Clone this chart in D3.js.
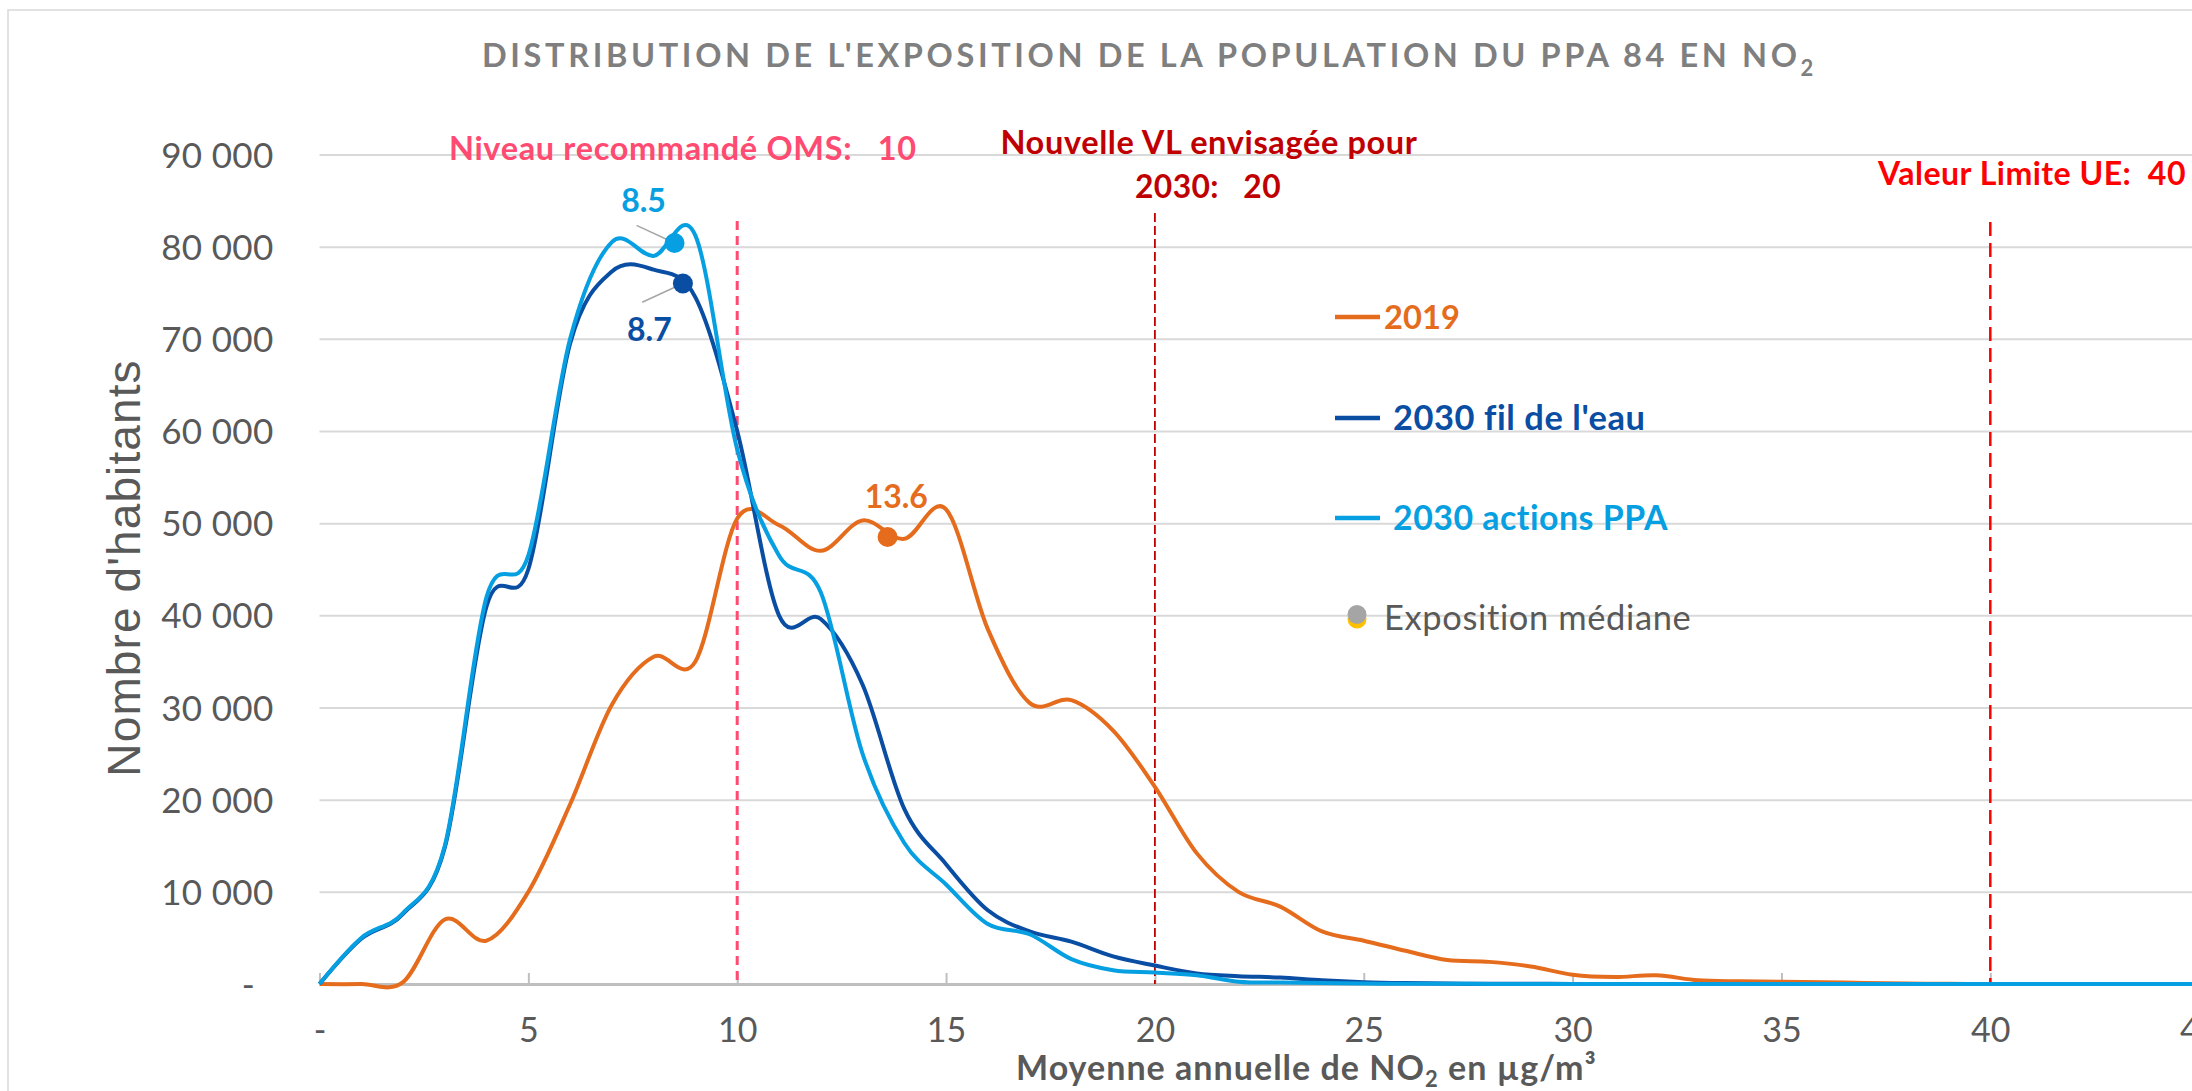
<!DOCTYPE html>
<html>
<head>
<meta charset="utf-8">
<script src="https://cdn.jsdelivr.net/npm/d3@7"></script>
<style>
  html, body { margin: 0; padding: 0; background: #fff; overflow: hidden; }
  svg { display: block; }
  text { white-space: pre; }
</style>
</head>
<body>
<svg id="chart" width="2192" height="1091"></svg>
<script>
// ---- Data: population per 1 µg/m³ bin of annual mean NO2 ----
const concentrations = d3.range(0, 46); // 0 .. 45 µg/m³

const pop2019 = [
  0, 0, 200, 7000, 4700, 10000, 19500, 30300, 35500, 35000,
  50500, 49800, 47000, 50300, 48300, 51500, 38500, 30500, 30800, 27500,
  21400, 14200, 10000, 8400, 5700, 4700, 3600, 2600, 2400, 1900,
  1000, 750, 950, 400, 300, 250, 200, 100, 50, 20,
  0, 0, 0, 0, 0, 0
];

const pop2030FilEau = [
  0, 4900, 7600, 14800, 41000, 45000, 69500, 77300, 77500, 74500,
  60000, 40000, 39600, 32500, 19000, 13000, 8000, 5700, 4600, 3000,
  2000, 1150, 850, 700, 400, 200, 100, 50, 30, 20,
  10, 0, 0, 0, 0, 0, 0, 0, 0, 0,
  0, 0, 0, 0, 0, 0
];

const pop2030ActionsPPA = [
  0, 5000, 7700, 15000, 42000, 46500, 70000, 80500, 79000, 81200,
  58000, 46500, 42500, 25000, 15300, 10800, 6500, 5400, 2700, 1500,
  1250, 950, 250, 150, 100, 50, 30, 20, 10, 0,
  0, 0, 0, 0, 0, 0, 0, 0, 0, 0,
  0, 0, 0, 0, 0, 0
];

const seriesNames = ["2019", "2030 fil de l'eau", "2030 actions PPA"];

// Median exposure of each scenario (µg/m³) and the population read at that point
const medianX = [13.6, 8.7, 8.5];
const medianY = [48500, 76000, 80400];

// Regulatory thresholds (µg/m³)
const thresholdValues = [10, 20, 40];

const xTicks = [0, 5, 10, 15, 20, 25, 30, 35, 40, 45];
const yTicks = [0, 10000, 20000, 30000, 40000, 50000, 60000, 70000, 80000, 90000];

// ---- Styles ----
const W = 2192, H = 1091;
const FONT = 'Lato, "Open Sans", sans-serif';
const GREY_TXT = '#595959';
const seriesColors = ['#e46c1c', '#0a4ea3', '#069fe1'];

const svg = d3.select('#chart');

// Grow a text towards a target width: part font size, part tracking.
function fitText(sel, target, mix = 0.6) {
  const node = sel.node();
  const size0 = +sel.attr('font-size');
  const w0 = node.getBBox().width;
  const size = size0 * (1 + (target / w0 - 1) * mix);
  sel.attr('font-size', size);
  sel.selectAll('tspan').each(function () {
    const t = d3.select(this);
    if (t.attr('font-size')) t.attr('font-size', +t.attr('font-size') * size / size0);
    if (t.attr('dy')) t.attr('dy', +t.attr('dy') * size / size0);
  });
  const w1 = node.getBBox().width;
  const n = sel.text().length;
  sel.attr('letter-spacing', (target - w1) / n);
  return sel;
}

const x = d3.scaleLinear().domain([0, 45]).range([319.5, 319.5 + 45 * 41.77]);
const y = d3.scaleLinear().domain([0, 90000]).range([984, 154.5]);

// chart frame
svg.append('rect')
  .attr('x', 8).attr('y', 10).attr('width', W).attr('height', H)
  .attr('fill', 'none').attr('stroke', '#d9d9d9').attr('stroke-width', 1.5);

// title
const title = svg.append('text')
  .attr('x', 482).attr('y', 66.5)
  .attr('font-family', FONT).attr('font-weight', 700).attr('font-size', 32.5)
  .attr('fill', '#7f7f7f')
  .text("DISTRIBUTION DE L'EXPOSITION DE LA POPULATION DU PPA 84 EN NO");
title.append('tspan').attr('font-size', 22).attr('dy', 9).text('2');
fitText(title, 1335, 0);

// y gridlines and tick labels
const frLocale = d3.formatLocale({ decimal: ',', thousands: '\u00a0', grouping: [3], currency: ['', ''] });
const fmt = frLocale.format(',');
const yAxis = d3.axisLeft(y)
  .tickValues(yTicks)
  .tickSizeInner(-(W - x(0)))
  .tickSizeOuter(0)
  .tickPadding(46)
  .tickFormat(d => d === 0 ? '-\u00a0\u00a0' : fmt(d));
const gy = svg.append('g').attr('transform', `translate(${x(0)},0)`).call(yAxis);
gy.select('.domain').remove();
gy.selectAll('.tick line').attr('stroke', '#d9d9d9').attr('stroke-width', 2);
gy.selectAll('.tick').filter(d => d === 0).select('line').remove();
gy.selectAll('.tick text')
  .attr('font-family', FONT).attr('font-size', 35).attr('fill', GREY_TXT)
  .attr('letter-spacing', 0.3)
  .attr('dy', '0.36em');

// x axis
const xAxis = d3.axisBottom(x)
  .tickValues(xTicks)
  .tickSizeInner(-11)
  .tickSizeOuter(0)
  .tickPadding(0)
  .tickFormat(d => d === 0 ? '-' : String(d));
const gx = svg.append('g').attr('transform', `translate(0,${y(0)})`).call(xAxis);
gx.select('.domain').attr('stroke', '#bfbfbf').attr('stroke-width', 3);
gx.selectAll('.tick line').attr('stroke', '#bfbfbf').attr('stroke-width', 2);
gx.selectAll('.tick text')
  .attr('font-family', FONT).attr('font-size', 34).attr('fill', GREY_TXT)
  .attr('y', 58).attr('dy', 0);

// axis titles
svg.append('text')
  .attr('transform', `translate(140,568) rotate(-90)`)
  .attr('text-anchor', 'middle')
  .attr('font-family', '"Liberation Sans", Arial, sans-serif')
  .attr('font-size', 46).attr('letter-spacing', 1.1)
  .attr('fill', GREY_TXT)
  .text("Nombre d'habitants");

const xt = svg.append('text')
  .attr('x', 1016).attr('y', 1080)
  .attr('font-family', FONT).attr('font-weight', 700).attr('font-size', 31)
  .attr('fill', GREY_TXT)
  .text('Moyenne annuelle de NO');
xt.append('tspan').attr('font-size', 20).attr('dy', 6).text('2');
xt.append('tspan').attr('dy', -6).text(' en µg/m³');
fitText(xt, 581);

// threshold lines
const thresholdStyle = [
  { color: '#ff4a72', width: 3, dash: '9,6', top: 221 },
  { color: '#c00000', width: 1.8, dash: '9,4', top: 213 },
  { color: '#ff0000', width: 2.5, dash: '14,7', top: 222 }
];
svg.append('g').selectAll('line')
  .data(thresholdValues)
  .join('line')
  .attr('x1', d => x(d)).attr('x2', d => x(d))
  .attr('y1', (d, i) => thresholdStyle[i].top).attr('y2', y(0))
  .attr('stroke', (d, i) => thresholdStyle[i].color)
  .attr('stroke-width', (d, i) => thresholdStyle[i].width)
  .attr('stroke-dasharray', (d, i) => thresholdStyle[i].dash);

// threshold captions
function caption(txt, xPos, yPos, color, anchor, width) {
  const t = svg.append('text')
    .attr('x', xPos).attr('y', yPos)
    .attr('text-anchor', anchor)
    .attr('font-family', FONT).attr('font-weight', 700)
    .attr('font-size', 30.5)
    .attr('fill', color)
    .text(txt);
  fitText(t, width);
}
caption(`Niveau recommandé OMS:   ${thresholdValues[0]}`, 449, 159.5, thresholdStyle[0].color, 'start', 468);
caption('Nouvelle VL envisagée pour', 1209, 153.5, thresholdStyle[1].color, 'middle', 418);
caption(`2030:   ${thresholdValues[1]}`, 1208, 197.5, thresholdStyle[1].color, 'middle', 146);
caption(`Valeur Limite UE:  ${thresholdValues[2]}`, 1878, 184.5, thresholdStyle[2].color, 'start', 309);

// distribution curves
const line = d3.line()
  .x((d, i) => x(concentrations[i]))
  .y(d => y(d))
  .curve(d3.curveCatmullRom.alpha(0));

const seriesValues = [pop2019, pop2030FilEau, pop2030ActionsPPA];
svg.append('g').selectAll('path')
  .data(seriesValues)
  .join('path')
  .attr('d', d => line(d))
  .attr('fill', 'none')
  .attr('stroke', (d, i) => seriesColors[i])
  .attr('stroke-width', 4)
  .attr('stroke-linejoin', 'round');

// median markers, leader lines and value labels
const medianLabelLayout = [
  { dx: 8.7, dy: -29.4, leader: null },
  { dx: -33.5, dy: 57, leader: [-40.7, 18.7] },
  { dx: -31, dy: -30.6, leader: [-38, -17.6] }
];
const gm = svg.append('g');
medianX.forEach((mx, i) => {
  const cx = x(mx), cy = y(medianY[i]);
  const lay = medianLabelLayout[i];
  if (lay.leader) {
    gm.append('line')
      .attr('x1', cx + lay.leader[0]).attr('y1', cy + lay.leader[1])
      .attr('x2', cx).attr('y2', cy)
      .attr('stroke', '#a6a6a6').attr('stroke-width', 1.5);
  }
  gm.append('circle')
    .attr('cx', cx).attr('cy', cy).attr('r', 10)
    .attr('fill', seriesColors[i]);
  gm.append('text')
    .attr('x', cx + lay.dx).attr('y', cy + lay.dy)
    .attr('text-anchor', 'middle')
    .attr('font-family', FONT).attr('font-weight', 700).attr('font-size', 32)
    .attr('fill', seriesColors[i])
    .text(d3.format('.1f')(mx));
});
gm.selectAll('circle').raise();

// legend
const legendLayout = [
  { y: 317, textX: 1384, baseline: 328.5, width: 76 },
  { y: 418, textX: 1393, baseline: 429.5, width: 252 },
  { y: 518, textX: 1393, baseline: 529.5, width: 276 }
];
const gl = svg.append('g');
seriesNames.forEach((name, i) => {
  const L = legendLayout[i];
  gl.append('line')
    .attr('x1', 1335).attr('x2', 1380).attr('y1', L.y).attr('y2', L.y)
    .attr('stroke', seriesColors[i]).attr('stroke-width', 4.5);
  const t = gl.append('text')
    .attr('x', L.textX).attr('y', L.baseline)
    .attr('font-family', FONT).attr('font-weight', 700).attr('font-size', 32.5)
    .attr('fill', seriesColors[i])
    .text(name);
  fitText(t, L.width);
});
gl.append('circle').attr('cx', 1357).attr('cy', 619).attr('r', 9.5).attr('fill', '#ffc000');
gl.append('circle').attr('cx', 1357).attr('cy', 614.5).attr('r', 9.5).attr('fill', '#a5a5a5');
const med = gl.append('text')
  .attr('x', 1384).attr('y', 630)
  .attr('font-family', FONT).attr('font-size', 32.5)
  .attr('fill', GREY_TXT)
  .text('Exposition médiane');
fitText(med, 308);
</script>
</body>
</html>
